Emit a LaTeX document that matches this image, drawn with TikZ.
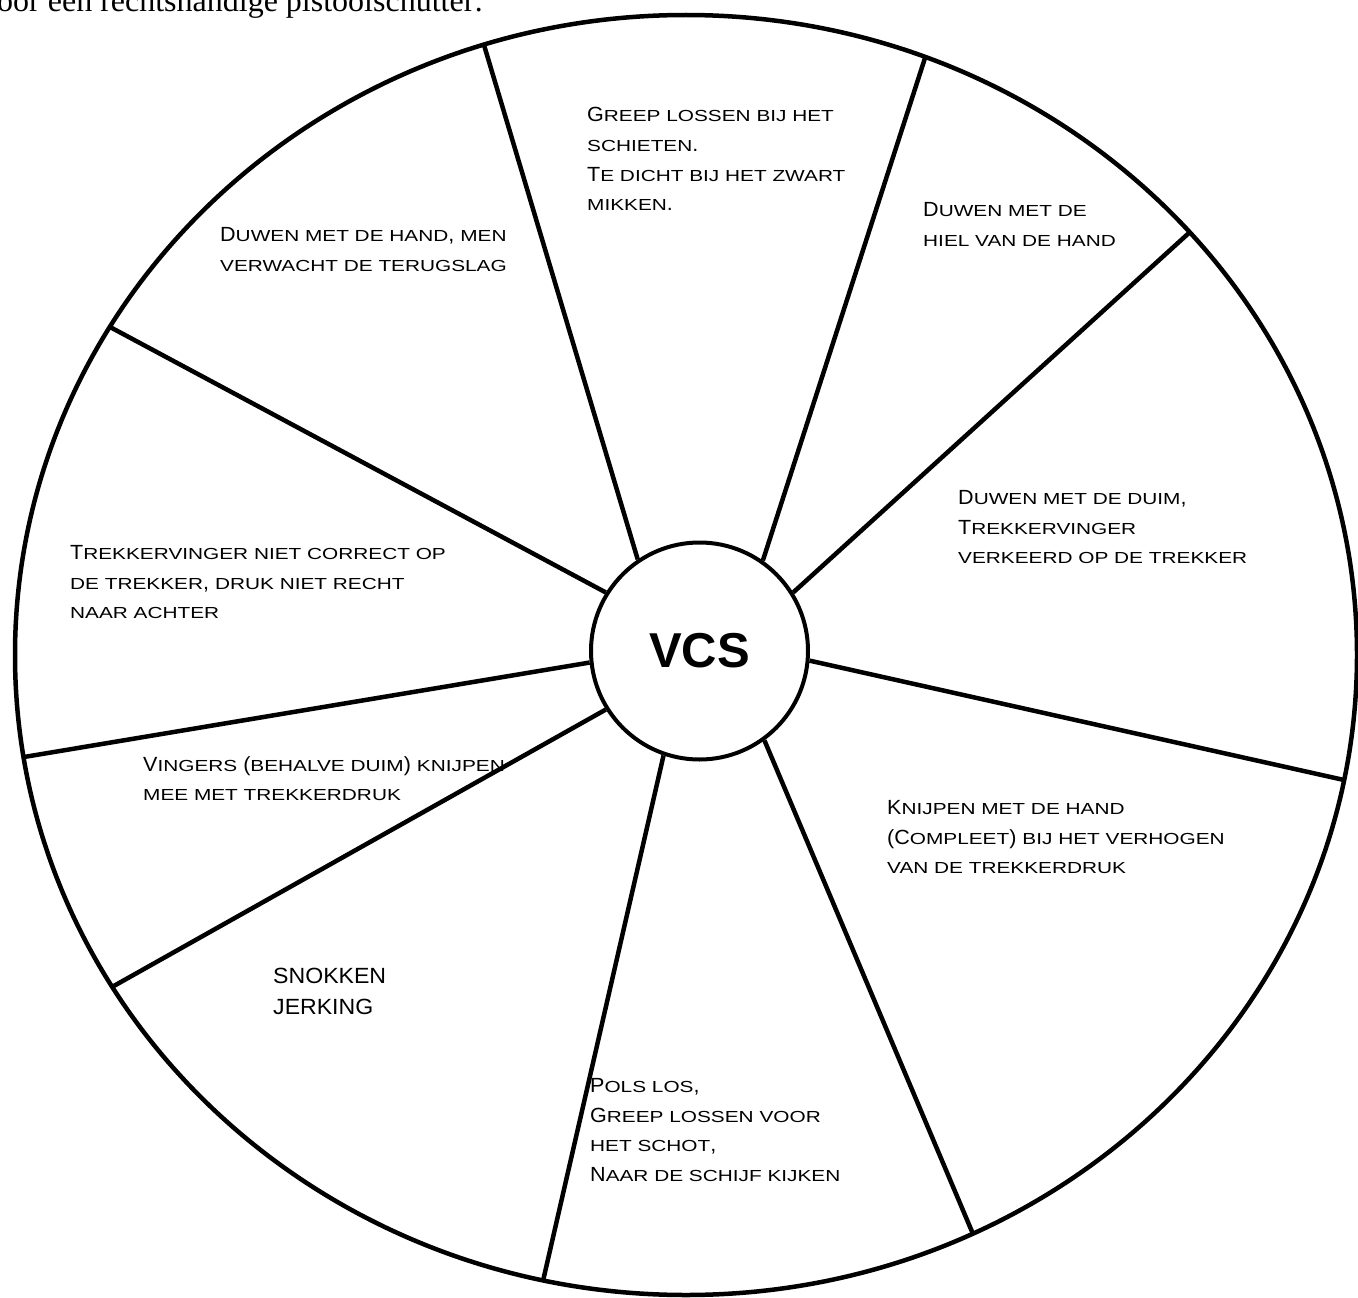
\documentclass[tikz,border=0pt]{standalone}
\usepackage{fontspec}
\setmainfont{Liberation Sans}
\newfontfamily\bodyserif{Liberation Serif}
\newfontfamily\causefont[FakeStretch=1.05]{Liberation Sans}
\newfontfamily\kcfont[FakeStretch=1.3]{Liberation Sans}
\tikzset{
    x=1pt, y=-1pt, % pixel coordinates, y going down
    rim/.style={line width=4.5pt}, % outer wheel
    spoke/.style={line width=4.5pt}, % dividing lines
    hub/.style={circle, draw, line width=4pt, minimum size=217pt, inner sep=0pt,
        font=\fontsize{49}{49}\selectfont\bfseries},
    cause/.style={anchor=north west, align=left, inner sep=0pt,
        font=\causefont\fontsize{20.5}{29.8}\selectfont},
}
% fake small caps
\newcommand{\kc}[1]{{\kcfont\fontsize{16}{29.8}\selectfont #1}}

\begin{document}
\begin{tikzpicture}
\useasboundingbox (0,0) rectangle (1358,1298);

\node[anchor=base west, inner sep=0pt, font=\fontsize{32}{32}\bodyserif] (intro) at (-3,12) {oor een rechtshandige pistoolschutter:};

\draw[rim] (686,655) ellipse [x radius=671, y radius=640];
\node[hub] (hub) at (699.5,651) {VCS};

% ends of the spokes on the rim
\coordinate (o1) at (484,45);
\coordinate (o2) at (925,58);
\coordinate (o3) at (1190,232);
\coordinate (o4) at (1344,780);
\coordinate (o5) at (973,1234);
\coordinate (o6) at (543,1281);
\coordinate (o7) at (112,987);
\coordinate (o8) at (24,757);
\coordinate (o9) at (110,327);

\foreach \a/\p in {124/o1, 55/o2, 32.5/o3, -5/o4, -54/o5, -109/o6, 212/o7, 186/o8, 148/o9}
    \draw[spoke] (hub.\a) -- (\p);

\node[cause] (duwhand) at (220,227) {D\kc{UWEN MET DE HAND}, \kc{MEN}\\ \kc{VERWACHT DE TERUGSLAG}};
\node[cause] (greep) at (587,107) {G\kc{REEP LOSSEN BIJ HET}\\ \kc{SCHIETEN}.\\ T\kc{E DICHT BIJ HET ZWART}\\ \kc{MIKKEN}.};
\node[cause] (hiel) at (923,202) {D\kc{UWEN MET DE}\\ \kc{HIEL VAN DE HAND}};
\node[cause] (duim) at (958,490) {D\kc{UWEN MET DE DUIM},\\ T\kc{REKKERVINGER}\\ \kc{VERKEERD OP DE TREKKER}};
\node[cause] (vinger) at (70,545) {T\kc{REKKERVINGER NIET CORRECT OP}\\ \kc{DE TREKKER}, \kc{DRUK NIET RECHT}\\ \kc{NAAR ACHTER}};
\node[cause] (vingers) at (143,756) {V\kc{INGERS} (\kc{BEHALVE DUIM}) \kc{KNIJPEN}\\ \kc{MEE MET TREKKERDRUK}};
\node[cause] (knijpen) at (887,800) {K\kc{NIJPEN MET DE HAND}\\ (C\kc{OMPLEET}) \kc{BIJ HET VERHOGEN}\\ \kc{VAN DE TREKKERDRUK}};
\node[cause, font=\causefont\fontsize{22}{31}\selectfont] (snok) at (273,968) {SNOKKEN\\ JERKING};
\node[cause] (pols) at (590,1078) {P\kc{OLS LOS},\\ G\kc{REEP LOSSEN VOOR}\\ \kc{HET SCHOT},\\ N\kc{AAR DE SCHIJF KIJKEN}};
\end{tikzpicture}
\end{document}
